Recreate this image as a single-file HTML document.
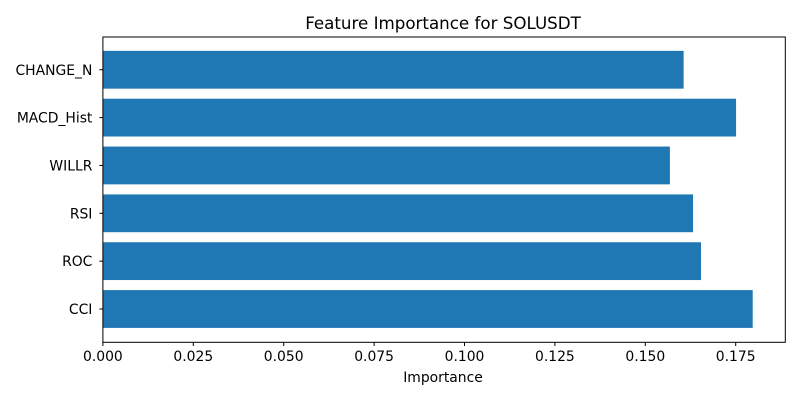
<!DOCTYPE html>
<html><head><meta charset="utf-8"><style>
body{margin:0;background:#fff;}
svg{display:block;font-family:"DejaVu Sans","Liberation Sans",sans-serif;}
</style></head><body>
<svg id="chart" width="800" height="400">
<text x="443" y="29" text-anchor="middle" font-size="16.7">Feature Importance for SOLUSDT</text>
<g id="bars"></g>
<rect x="102.9" y="37" width="682.4" height="305.3" fill="none" stroke="#000" stroke-width="1"/>
<g id="xticks" font-size="13.9"></g>
<g id="yticks" font-size="13.9"></g>
<text x="443" y="382" text-anchor="middle" font-size="13.9">Importance</text>
</svg>
<script>
const categories = ["CCI","ROC","RSI","WILLR","MACD_Hist","CHANGE_N"];
const importance = [0.1797,0.1654,0.1632,0.1568,0.1751,0.1606];
const xTickValues = [0,0.025,0.05,0.075,0.1,0.125,0.15,0.175];
const xTickLabels = ["0.000","0.025","0.050","0.075","0.100","0.125","0.150","0.175"];

const ns="http://www.w3.org/2000/svg";
const x0=102.9, pxPerUnit=3616;
const xs=v=>x0+v*pxPerUnit;
const y0=309, step=47.85;
const ys=i=>y0-i*step;
const bh=37.8;
const bars=document.getElementById('bars');
categories.forEach((c,i)=>{
  const r=document.createElementNS(ns,'rect');
  r.setAttribute('x',xs(0));
  r.setAttribute('y',ys(i)-bh/2);
  r.setAttribute('width',xs(importance[i])-xs(0));
  r.setAttribute('height',bh);
  r.setAttribute('fill','#1f77b4');
  
  
  bars.appendChild(r);
});
const yt=document.getElementById('yticks');
categories.forEach((c,i)=>{
  const l=document.createElementNS(ns,'line');
  l.setAttribute('x1',x0-3.5);l.setAttribute('x2',x0);
  l.setAttribute('y1',ys(i));l.setAttribute('y2',ys(i));
  l.setAttribute('stroke','#000');
  
  
  yt.appendChild(l);
  const t=document.createElementNS(ns,'text');
  t.setAttribute('x',x0-10.5);t.setAttribute('y',ys(i)+5);
  t.setAttribute('text-anchor','end');
  t.textContent=c;
  
  
  yt.appendChild(t);
});
const xt=document.getElementById('xticks');
xTickValues.forEach((v,i)=>{
  const l=document.createElementNS(ns,'line');
  l.setAttribute('x1',xs(v));l.setAttribute('x2',xs(v));
  l.setAttribute('y1',342.3);l.setAttribute('y2',346);
  l.setAttribute('stroke','#000');
  
  
  xt.appendChild(l);
  const t=document.createElementNS(ns,'text');
  t.setAttribute('x',xs(v));t.setAttribute('y',361);
  t.setAttribute('text-anchor','middle');
  t.textContent=xTickLabels[i];
  
  
  xt.appendChild(t);
});
</script>
</body></html>
